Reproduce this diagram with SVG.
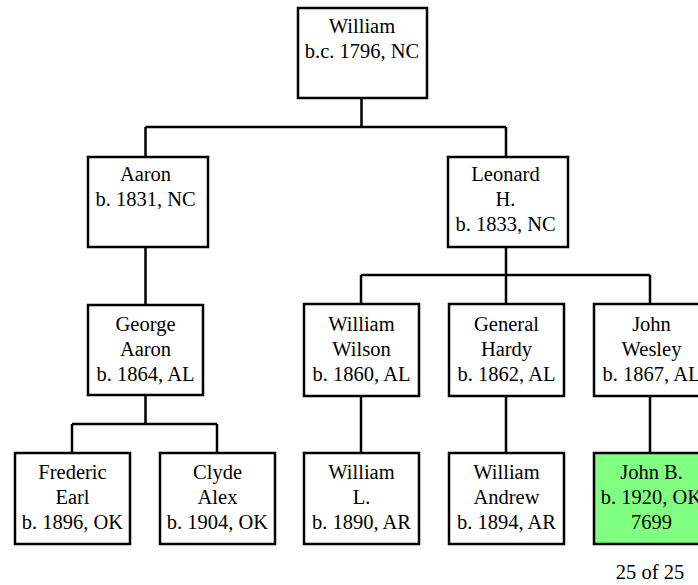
<svg xmlns="http://www.w3.org/2000/svg" width="698" height="585" viewBox="0 0 698 585">
<style>
rect{fill:#fff;stroke:#000;stroke-width:2.5}
rect.hl{fill:#80ff80}
text{font-family:"Liberation Serif","Times New Roman",serif;font-size:20.5px;fill:#000;text-anchor:middle}
#connectors path{fill:none;stroke:#000;stroke-width:2.5}
</style>
<rect x="0" y="0" width="698" height="585" style="fill:#fff;stroke:none"/>
<g id="connectors">
<path d="M361.5 98V127M145.5 127H506M145.5 127V157M506 127V157"/>
<path d="M145.5 247V305"/>
<path d="M506 247V275M361 275H650M361 275V304M506 275V304M650 275V304"/>
<path d="M145.5 395V424M72 424H217M72 424V453M217 424V453"/>
<path d="M361 396V453M506 396V453M650 396V453"/>
</g>
<g id="william"><rect x="298" y="8" width="129" height="90"/><text x="362" y="33">William</text><text x="362" y="58">b.c. 1796, NC</text></g>
<g id="aaron"><rect x="88" y="157" width="120" height="90"/><text x="145.5" y="181">Aaron</text><text x="145.5" y="206">b. 1831, NC</text></g>
<g id="leonard"><rect x="448" y="157" width="120" height="90"/><text x="505.5" y="181">Leonard</text><text x="505.5" y="206">H.</text><text x="505.5" y="231">b. 1833, NC</text></g>
<g id="george"><rect x="88" y="305" width="115" height="90"/><text x="145.5" y="331">George</text><text x="145.5" y="356">Aaron</text><text x="145.5" y="381">b. 1864, AL</text></g>
<g id="williamwilson"><rect x="304" y="304" width="115" height="92"/><text x="361.5" y="331">William</text><text x="361.5" y="356">Wilson</text><text x="361.5" y="381">b. 1860, AL</text></g>
<g id="generalhardy"><rect x="449" y="304" width="115" height="92"/><text x="506.5" y="331">General</text><text x="506.5" y="356">Hardy</text><text x="506.5" y="381">b. 1862, AL</text></g>
<g id="johnwesley"><rect x="594" y="304" width="115" height="92"/><text x="651.5" y="331">John</text><text x="651.5" y="356">Wesley</text><text x="651.5" y="381">b. 1867, AL</text></g>
<g id="frederic"><rect x="15" y="453" width="115" height="91"/><text x="72.5" y="479">Frederic</text><text x="72.5" y="504">Earl</text><text x="72.5" y="529">b. 1896, OK</text></g>
<g id="clyde"><rect x="160" y="453" width="115" height="91"/><text x="217.5" y="479">Clyde</text><text x="217.5" y="504">Alex</text><text x="217.5" y="529">b. 1904, OK</text></g>
<g id="williaml"><rect x="304" y="453" width="115" height="91"/><text x="361.5" y="479">William</text><text x="361.5" y="504">L.</text><text x="361.5" y="529">b. 1890, AR</text></g>
<g id="williamandrew"><rect x="449" y="453" width="115" height="91"/><text x="506.5" y="479">William</text><text x="506.5" y="504">Andrew</text><text x="506.5" y="529">b. 1894, AR</text></g>
<g id="johnb"><rect class="hl" x="594" y="453" width="115" height="91"/><text x="651.5" y="479">John B.</text><text x="651.5" y="504">b. 1920, OK</text><text x="651.5" y="529">7699</text></g>
<text x="650" y="579">25 of 25</text>
</svg>
